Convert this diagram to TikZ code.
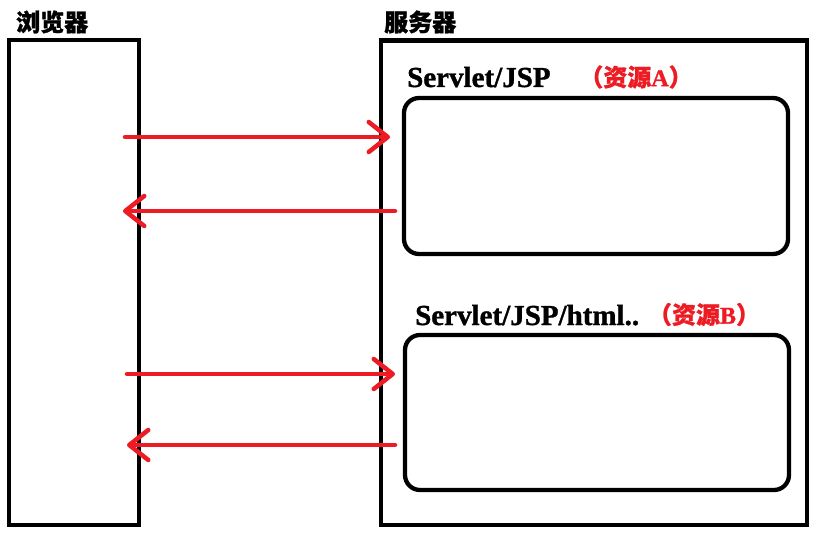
\documentclass[tikz,border=0pt]{standalone}
\usepackage{fontspec}
\setmainfont{Liberation Serif}[BoldFeatures={FakeBold=1.2}]
\newfontfamily\cjk{Noto Sans CJK SC}[BoldFeatures={FakeBold=1}]
\usetikzlibrary{arrows.meta}
\definecolor{pred}{HTML}{ED1C24}
\tikzset{
  boxframe/.style={draw=black, line width=4.3pt, rectangle, inner sep=0pt, outer sep=0pt},
  resbox/.style={boxframe, rounded corners=15pt},
  msg/.style={draw=pred, line width=4.5pt, line cap=round,
    -{Straight Barb[length=19pt,width=30pt,round]}},
  cjklabel/.style={inner sep=0pt, font=\cjk\bfseries\fontsize{24}{26}\selectfont},
  reslabel/.style={inner sep=0pt, font=\bfseries\fontsize{29}{31}\selectfont},
  redlabel/.style={inner sep=0pt, text=pred, font=\bfseries\fontsize{24}{26}\selectfont},
}
\begin{document}
\begin{tikzpicture}[x=1pt,y=-1pt]
\useasboundingbox (0,0) rectangle (818,534);
\fill[white] (0,0) rectangle (818,534);
% frames
\node[boxframe, minimum width=130pt, minimum height=485pt] (browser) at (74,282.5) {};
\node[boxframe, minimum width=426pt, minimum height=484.5pt] (server) at (594,282.75) {};
\node[resbox, minimum width=384pt, minimum height=156pt] (resA) at (596,176) {};
\node[resbox, minimum width=384pt, minimum height=155pt] (resB) at (597,412.5) {};
% titles
\node[cjklabel, anchor=west] (tbrowser) at (16,22) {浏览器};
\node[cjklabel, anchor=west] (tserver) at (384,22) {服务器};
\node[reslabel, anchor=base west] (tA) at (407,87) {Servlet/JSP};
\node[reslabel, anchor=base west] (tB) at (415,325) {Servlet/JSP/html..};
\node[redlabel] (rA) at (636,77) {{\cjk\bfseries （资源}A{\cjk\bfseries ）}};
\node[redlabel] (rB) at (704,314.5) {{\cjk\bfseries （资源}B{\cjk\bfseries ）}};
% arrow end points
\coordinate (a1s) at (125,137);  \coordinate (a1e) at (390,137);
\coordinate (a2s) at (395,211);  \coordinate (a2e) at (123,211);
\coordinate (a3s) at (127,374);  \coordinate (a3e) at (395,374);
\coordinate (a4s) at (395,445);  \coordinate (a4e) at (127,445);
\draw[msg] (a1s) -- (a1e);
\draw[msg] (a2s) -- (a2e);
\draw[msg] (a3s) -- (a3e);
\draw[msg] (a4s) -- (a4e);
\end{tikzpicture}
\end{document}
